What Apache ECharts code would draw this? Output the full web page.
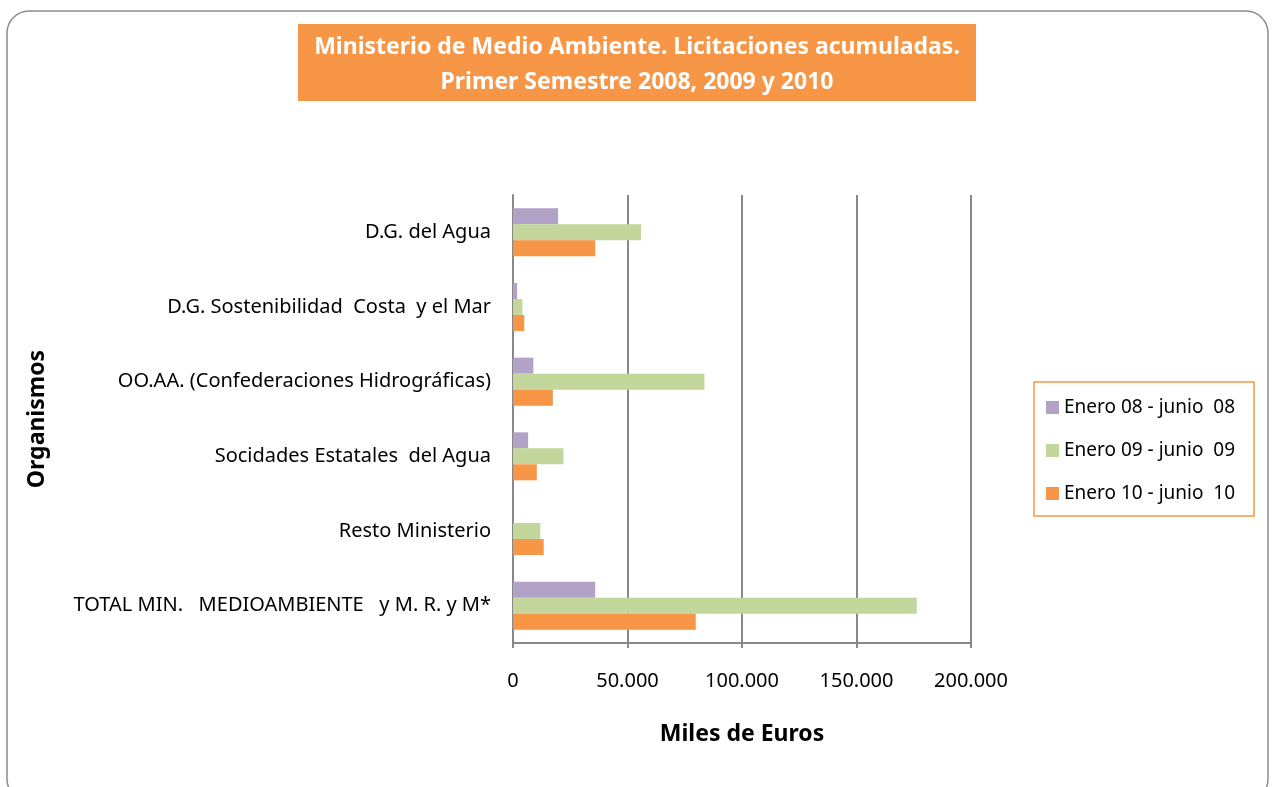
<!DOCTYPE html>
<html>
<head>
<meta charset="utf-8">
<script src="https://cdn.jsdelivr.net/npm/echarts@6/dist/echarts.min.js"></script>
<style>
html, body { margin: 0; padding: 0; background: #fff; }
#chart { width: 1274px; height: 787px; }
</style>
</head>
<body>
<div id="chart"></div>
<script>
// organismos, de arriba abajo
const categories = [
  'D.G. del Agua',
  'D.G. Sostenibilidad  Costa  y el Mar',
  'OO.AA. (Confederaciones Hidrográficas)',
  'Socidades Estatales  del Agua',
  'Resto Ministerio',
  'TOTAL MIN.   MEDIOAMBIENTE   y M. R. y M*'
]
const seriesNames = ['Enero 08 - junio  08', 'Enero 09 - junio  09', 'Enero 10 - junio  10']
const data08 = [19700, 1800, 8900, 6600, 0, 35900]
const data09 = [55900, 4100, 83600, 22000, 11900, 176300]
const data10 = [35900, 4900, 17400, 10400, 13400, 79800]
const xTicks = [0, 50000, 100000, 150000, 200000]

const colors = ['#B3A2C7', '#C3D69B', '#F79646']
const font = 'Noto Sans'

function fmt(v) {
  return String(v).replace(/\B(?=(\d{3})+(?!\d))/g, '.')
}

const chart = echarts.init(document.getElementById('chart'))
const option = {
  textStyle: { fontFamily: font },
  animation: false,
  graphic: [
    {
      type: 'rect',
      shape: { x: 7, y: 11, width: 1261, height: 790, r: 22 },
      style: { fill: 'none', stroke: '#8c8c8c', lineWidth: 1.5 },
      z: -1
    },
    {
      type: 'rect',
      shape: { x: 298, y: 24, width: 678, height: 77 },
      style: { fill: '#F79646' }
    },
    {
      type: 'text',
      x: 637, y: 47,
      style: {
        text: 'Ministerio de Medio Ambiente. Licitaciones acumuladas.',
        fill: '#fff', font: 'bold 23px "' + font + '"',
        align: 'center', verticalAlign: 'middle'
      }
    },
    {
      type: 'text',
      x: 637, y: 82,
      style: {
        text: 'Primer Semestre 2008, 2009 y 2010',
        fill: '#fff', font: 'bold 23px "' + font + '"',
        align: 'center', verticalAlign: 'middle'
      }
    }
  ],
  grid: {
    left: 513,
    top: 195,
    width: 458,
    height: 448,
    containLabel: false
  },
  legend: {
    orient: 'vertical',
    left: 1034,
    top: 382,
    width: 220,
    padding: [16, 19, 13, 12],
    itemGap: 24,
    itemWidth: 13,
    itemHeight: 13,
    icon: 'rect',
    borderColor: '#F79646',
    borderWidth: 1.5,
    textStyle: { fontSize: 19, color: '#000', fontFamily: font },
    data: seriesNames
  },
  xAxis: {
    type: 'value',
    min: 0,
    max: 200000,
    interval: 50000,
    name: 'Miles de Euros',
    nameLocation: 'middle',
    nameGap: 80,
    nameTextStyle: { fontSize: 23, fontWeight: 'bold', color: '#000' },
    axisLine: { show: true, lineStyle: { color: '#888', width: 2 } },
    axisTick: { show: true, length: 5, lineStyle: { color: '#888', width: 2 } },
    axisLabel: {
      fontSize: 20, color: '#000', margin: 28,
      formatter: function (v) { return fmt(v) }
    },
    splitLine: { show: true, lineStyle: { color: '#888', width: 2 } }
  },
  yAxis: {
    type: 'category',
    inverse: true,
    data: categories,
    name: 'Organismos',
    nameLocation: 'middle',
    nameGap: 464,
    nameRotate: 90,
    nameTextStyle: { fontSize: 23, fontWeight: 'bold', color: '#000' },
    axisLine: { show: true, lineStyle: { color: '#888', width: 2 } },
    axisTick: { show: false },
    axisLabel: { fontSize: 20, color: '#000', margin: 22 }
  },
  series: [
    { name: seriesNames[0], type: 'bar', data: data08, itemStyle: { color: colors[0] }, barWidth: 16, barGap: '0%' },
    { name: seriesNames[1], type: 'bar', data: data09, itemStyle: { color: colors[1] }, barWidth: 16, barGap: '0%' },
    { name: seriesNames[2], type: 'bar', data: data10, itemStyle: { color: colors[2] }, barWidth: 16, barGap: '0%' }
  ]
}
chart.setOption(option)
window.addEventListener('resize', () => {
  chart.resize()
})
</script>
</body>
</html>
